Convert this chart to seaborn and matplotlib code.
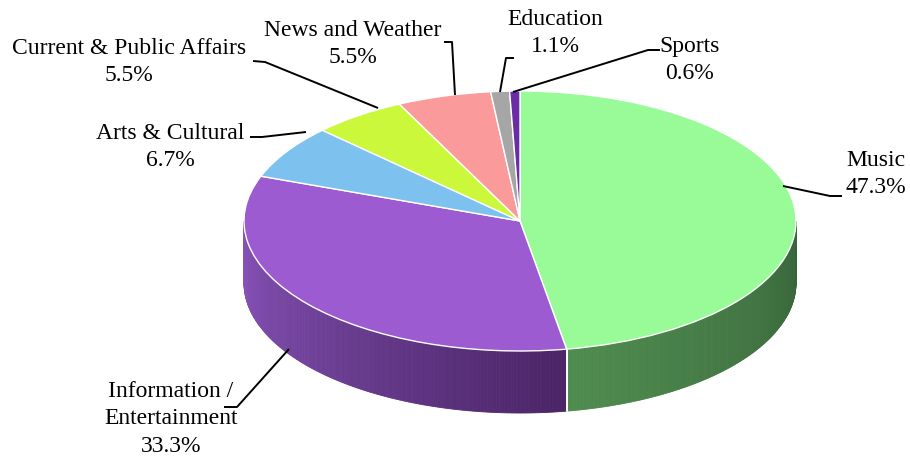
import numpy as np
import matplotlib
matplotlib.use("Agg")
import matplotlib.pyplot as plt
from matplotlib.transforms import Affine2D
from matplotlib.patches import Polygon
import matplotlib.colors as mcolors
import seaborn as sns

# ---- data ----
categories = ["Music", "Information /\nEntertainment", "Arts & Cultural",
              "Current & Public Affairs", "News and Weather", "Education", "Sports"]
shares = [47.3, 33.3, 6.7, 5.5, 5.5, 1.1, 0.6]
top_colors = ["#98FB98", "#9C5BD1", "#7DC2EF", "#CCF83C", "#FA9A9A", "#A6A6A6", "#6A2DA6"]
side_light = ["#4F8C4F", "#8A55BC", "#5A8FB0", "#90B02A", "#B06E6E", "#777777", "#4A1F75"]
side_dark = ["#38643A", "#4A2466", "#3E6680", "#6A8020", "#804E4E", "#555555", "#2E1250"]

sns.set_theme(style="white")
plt.rcParams["font.family"] = ["Liberation Serif", "DejaVu Serif"]

W, H = 910, 459
fig = plt.figure(figsize=(W / 100, H / 100), dpi=100)
ax = fig.add_axes([0, 0, 1, 1])

def Y(ypx):
    return H - ypx

cx, cy, rx, ry, depth = 520, Y(221), 276, 130, 62

# ---- top face via pie ----
wedges, _ = ax.pie(shares, colors=top_colors, startangle=90, counterclock=False,
                   radius=1, center=(0, 0),
                   wedgeprops=dict(edgecolor="white", linewidth=1.0))
tr = Affine2D().scale(rx, ry).translate(cx, cy) + ax.transData
for w in wedges:
    w.set_transform(tr)
    w.set_zorder(3)

# ---- side walls (front half) ----
total = sum(shares)
start = 90.0
for val, cl, cd in zip(shares, side_light, side_dark):
    th1 = start
    th0 = start - val / total * 360.0
    start = th0
    for shift in (0, -360, 360):
        l, h = th0 + shift, th1 + shift
        l2, h2 = max(l, -180.0), min(h, 0.0)
        if h2 > l2:
            n = max(int((h2 - l2) * 2), 2)
            edges = np.linspace(l2, h2, n + 1)
            c0 = np.array(mcolors.to_rgb(cl))
            c1 = np.array(mcolors.to_rgb(cd))
            for i in range(n):
                t0, t1 = np.radians(edges[i]), np.radians(edges[i + 1])
                xs = [cx + rx * np.cos(t0), cx + rx * np.cos(t1)]
                ys = [cy + ry * np.sin(t0), cy + ry * np.sin(t1)]
                frac = (i + 0.5) / n
                col = c0 * (1 - frac) + c1 * frac
                poly = Polygon([(xs[0], ys[0]), (xs[1], ys[1]),
                                (xs[1], ys[1] - depth), (xs[0], ys[0] - depth)],
                               closed=True, facecolor=col, edgecolor=col,
                               linewidth=0.6, zorder=1)
                ax.add_patch(poly)
            for e in (l2, h2):
                if -180.0 < e < 0.0:
                    t = np.radians(e)
                    ax.plot([cx + rx * np.cos(t)] * 2,
                            [cy + ry * np.sin(t), cy + ry * np.sin(t) - depth],
                            color="white", lw=1.2, zorder=2)

# ---- labels & leader lines ----
label_text = [
    "Music\n47.3%", "Information /\nEntertainment\n33.3%", "Arts & Cultural\n6.7%",
    "Current & Public Affairs\n5.5%", "News and Weather\n5.5%", "Education\n1.1%",
    "Sports\n0.6%",
]
label_pos = [(876, 174), (171, 419), (170, 147), (129, 62), (353, 44), (555, 33), (690, 60)]
leaders = [
    [(783, 186), (830, 196), (842, 196)],
    [(289, 349), (237, 407), (224, 407)],
    [(306, 132), (262, 137), (250, 137)],
    [(378, 108), (265, 62), (253, 61)],
    [(455, 95), (452, 42), (444, 42)],
    [(500, 92), (506, 58), (514, 58)],
    [(513, 92), (648, 50), (660, 50)],
]
for txt, (x, y) in zip(label_text, label_pos):
    ax.text(x, Y(y), txt, ha="center", va="center", fontsize=17,
            linespacing=1.42, color="black", zorder=5)
for pts in leaders:
    ax.plot([p[0] for p in pts], [Y(p[1]) for p in pts], color="black",
            lw=1.4, zorder=4, solid_capstyle="butt")

ax.set_xlim(0, W)
ax.set_ylim(0, H)
ax.set_aspect("auto")
ax.axis("off")
fig.savefig("out.png", dpi=100)
